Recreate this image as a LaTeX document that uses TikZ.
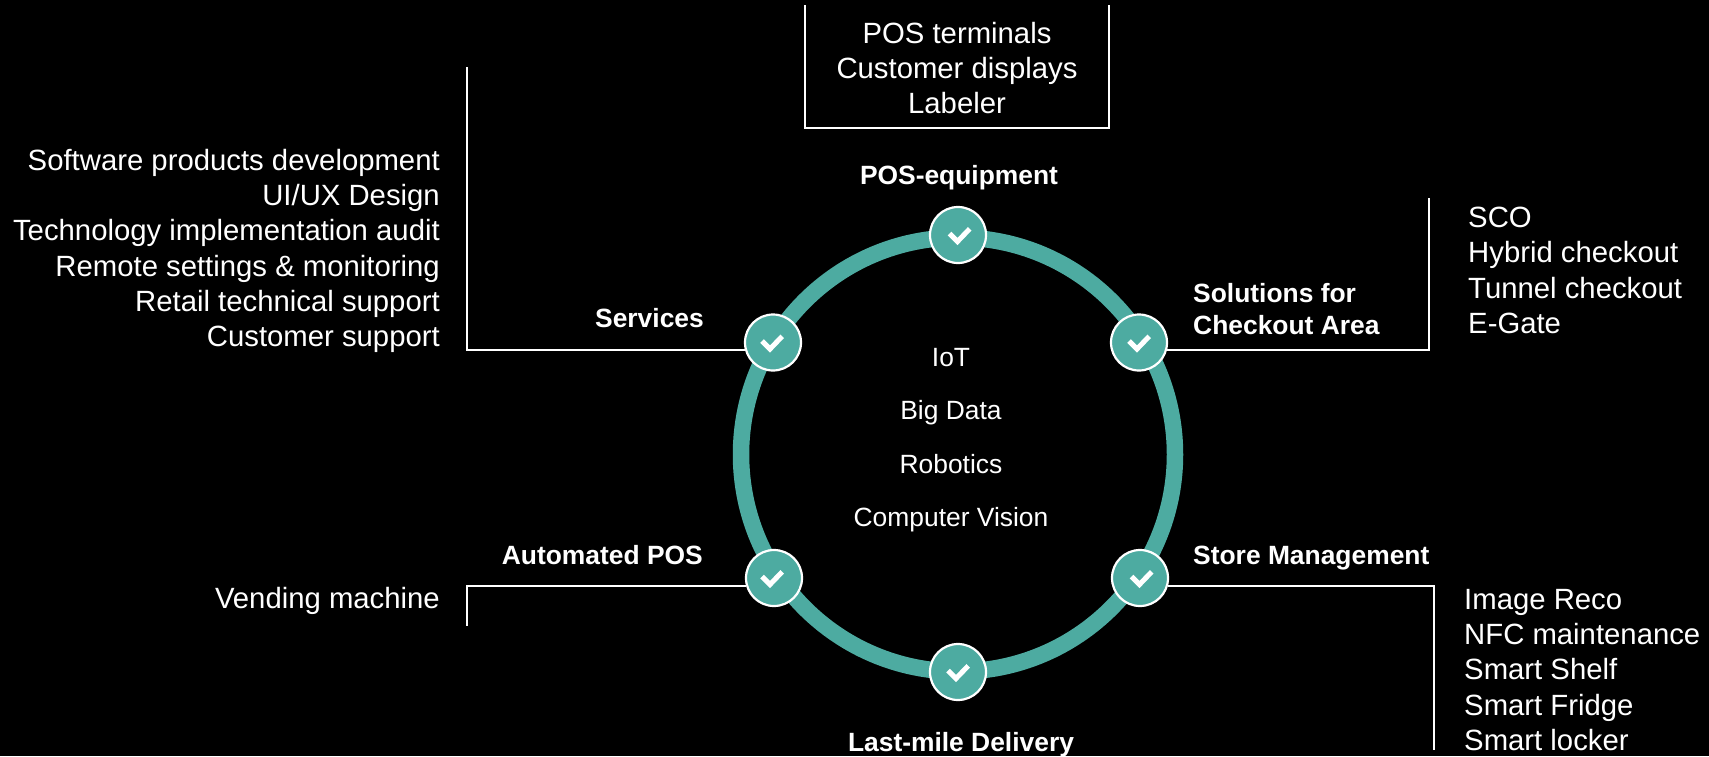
\documentclass[tikz,border=0pt]{standalone}
\usepackage{fontspec}
\setmainfont{Liberation Sans}
\definecolor{ringteal}{HTML}{4DABA1}
\tikzset{
  stepdot/.style={circle,draw=white,line width=2.2pt,fill=ringteal,minimum size=56pt,inner sep=0pt},
  tick/.style={white,line width=5pt,line join=miter},
  bracket/.style={white,line width=2pt,line join=miter},
  headtxt/.style={font=\fontsize{26.4}{32}\selectfont\bfseries,inner sep=0pt,text=white},
  listtxt/.style={font=\fontsize{29.3}{35.3}\selectfont,inner sep=0pt,text=white},
  midtxt/.style={font=\fontsize{26.4}{30}\selectfont,inner sep=0pt,text=white}
}
\begin{document}
\begin{tikzpicture}[x=1pt,y=-1pt]
\fill[black] (0,0) rectangle (1709,756);
\useasboundingbox (0,0) rectangle (1709,756);

% ring and the six steps
\draw[ringteal,line width=16.5pt] (958,454.5) circle (217pt);
\foreach \name/\px/\py/\dx in {pos/958/235/1.5,checkout/1139/342.5/0,store/1140/578/1.5,delivery/958/672/0,auto/774/578/-2,serv/773/342.5/-1}
  {
    \node[stepdot] (\name) at (\px,\py) {};
    \draw[tick] (\px+\dx-10,\py-1.5) -- (\px+\dx-2,\py+6.5) -- (\px+\dx+10.2,\py-6.2);
  }

% brackets
\coordinate (boxa) at (805,5);
\coordinate (boxb) at (805,128);
\coordinate (boxc) at (1109,128);
\coordinate (boxd) at (1109,5);
\draw[bracket] (boxa) -- (boxb) -- (boxc) -- (boxd);

\coordinate (servend) at (467,67);
\draw[bracket] (serv.195) -| (servend);

\coordinate (checkend) at (1429,198);
\draw[bracket] (checkout.345) -| (checkend);

\coordinate (autoend) at (467,626);
\draw[bracket] (auto.195) -| (autoend);

\coordinate (storeend) at (1434,750);
\draw[bracket] (store.345) -| (storeend);

% headings
\node[headtxt] (lpos) at (959,178) {POS-equipment};
\node[headtxt,anchor=east] (lserv) at (704,318) {Services};
\node[headtxt,anchor=west,align=left] (lcheck) at (1193,309) {Solutions for\\Checkout Area};
\node[headtxt,anchor=east] (lauto) at (703,555) {Automated POS};
\node[headtxt,anchor=west] (lstore) at (1193,558) {Store Management};
\node[headtxt] (ldeliv) at (961,745) {Last-mile Delivery};

% lists
\node[listtxt,align=center] (tpos) at (957,68) {POS terminals\\Customer displays\\Labeler};
\node[listtxt,anchor=east,align=right] (tserv) at (440,251) {Software products development\\UI/UX Design\\Technology implementation audit\\Remote settings \& monitoring\\Retail technical support\\Customer support};
\node[listtxt,anchor=west,align=left] (tcheck) at (1468,270.5) {SCO\\Hybrid checkout\\Tunnel checkout\\E-Gate};
\node[listtxt,anchor=east] (tauto) at (440,600.5) {Vending machine};
\node[listtxt,anchor=west,align=left] (tstore) at (1464,670) {Image Reco\\NFC maintenance\\Smart Shelf\\Smart Fridge\\Smart locker};

% centre
\node[midtxt] (mioT) at (951,358) {IoT};
\node[midtxt] (mbig) at (951,413) {Big Data};
\node[midtxt] (mrob) at (951,464) {Robotics};
\node[midtxt] (mcv) at (951,520) {Computer Vision};
\end{tikzpicture}
\end{document}
